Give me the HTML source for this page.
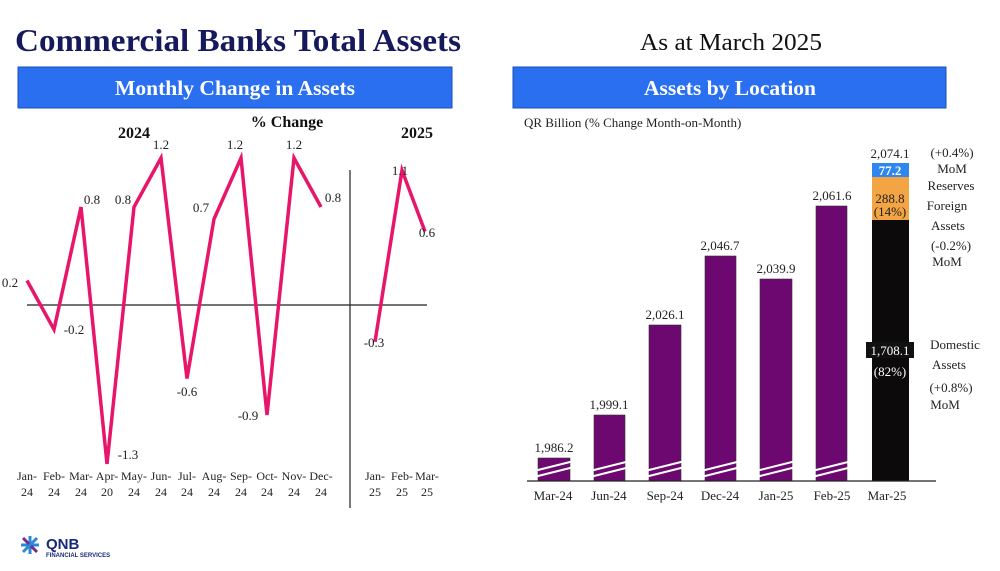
<!DOCTYPE html>
<html><head><meta charset="utf-8"><style>
html,body{margin:0;padding:0;background:#fff;}
svg{display:block;font-family:"Liberation Serif",serif;}
</style></head><body>
<svg width="1000" height="571" viewBox="0 0 1000 571" xmlns="http://www.w3.org/2000/svg">
<text x="15" y="51" font-size="32" font-weight="bold" fill="#161a5c" textLength="446" lengthAdjust="spacingAndGlyphs">Commercial Banks Total Assets</text>
<text x="731" y="50" font-size="24" fill="#111" text-anchor="middle" textLength="182" lengthAdjust="spacingAndGlyphs">As at March 2025</text>
<rect x="18" y="67" width="434" height="41" fill="#2a6ff0" stroke="#1a4fb8"/>
<text x="235" y="95" font-size="21" font-weight="bold" fill="#fff" text-anchor="middle" textLength="240" lengthAdjust="spacingAndGlyphs">Monthly Change in Assets</text>
<rect x="513" y="67" width="433" height="41" fill="#2a6ff0" stroke="#1a4fb8"/>
<text x="730" y="95" font-size="21" font-weight="bold" fill="#fff" text-anchor="middle" textLength="172" lengthAdjust="spacingAndGlyphs">Assets by Location</text>

<!-- left chart -->
<g font-size="13" fill="#111">
<text x="134" y="138" font-size="16" font-weight="bold" text-anchor="middle">2024</text>
<text x="287" y="127" font-size="16" font-weight="bold" text-anchor="middle">% Change</text>
<text x="417" y="138" font-size="16" font-weight="bold" text-anchor="middle">2025</text>
</g>
<line x1="27" y1="305" x2="427" y2="305" stroke="#222" stroke-width="1.2"/>
<line x1="350" y1="170" x2="350" y2="508" stroke="#222" stroke-width="1.2"/>
<polyline fill="none" stroke="#e8166a" stroke-width="3.5" stroke-linejoin="miter" points="27,280.5 54,329.5 81,207 107,464 134,207 161,158 187,378.5 214,219 241,158 267,415 294,158 321,207"/>
<polyline fill="none" stroke="#e8166a" stroke-width="3.5" points="375,341.8 402,170.3 425,231.5"/>
<g font-size="13" fill="#222" font-family="Liberation Serif,serif">
<text x="10" y="287" text-anchor="middle">0.2</text>
<text x="74" y="334" text-anchor="middle">-0.2</text>
<text x="92" y="204" text-anchor="middle">0.8</text>
<text x="128" y="459" text-anchor="middle">-1.3</text>
<text x="123" y="204" text-anchor="middle">0.8</text>
<text x="161" y="149" text-anchor="middle">1.2</text>
<text x="187" y="396" text-anchor="middle">-0.6</text>
<text x="201" y="212" text-anchor="middle">0.7</text>
<text x="235" y="149" text-anchor="middle">1.2</text>
<text x="248" y="420" text-anchor="middle">-0.9</text>
<text x="294" y="149" text-anchor="middle">1.2</text>
<text x="333" y="202" text-anchor="middle">0.8</text>
<text x="374" y="347" text-anchor="middle">-0.3</text>
<text x="400" y="175" text-anchor="middle">1.1</text>
<text x="427" y="237" text-anchor="middle">0.6</text>
</g>
<g font-size="12" fill="#222" text-anchor="middle">
<text x="27" y="480">Jan-</text><text x="27" y="496">24</text>
<text x="54" y="480">Feb-</text><text x="54" y="496">24</text>
<text x="81" y="480">Mar-</text><text x="81" y="496">24</text>
<text x="107" y="480">Apr-</text><text x="107" y="496">20</text>
<text x="134" y="480">May-</text><text x="134" y="496">24</text>
<text x="161" y="480">Jun-</text><text x="161" y="496">24</text>
<text x="187" y="480">Jul-</text><text x="187" y="496">24</text>
<text x="214" y="480">Aug-</text><text x="214" y="496">24</text>
<text x="241" y="480">Sep-</text><text x="241" y="496">24</text>
<text x="267" y="480">Oct-</text><text x="267" y="496">24</text>
<text x="294" y="480">Nov-</text><text x="294" y="496">24</text>
<text x="321" y="480">Dec-</text><text x="321" y="496">24</text>
<text x="375" y="480">Jan-</text><text x="375" y="496">25</text>
<text x="402" y="480">Feb-</text><text x="402" y="496">25</text>
<text x="427" y="480">Mar-</text><text x="427" y="496">25</text>
</g>

<!-- right chart -->
<text x="524" y="127" font-size="13" fill="#222">QR Billion (% Change Month-on-Month)</text>
<g fill="#6d0870" stroke="#333" stroke-width="0.6">
<rect x="538" y="458" width="32" height="23"/>
<rect x="594" y="415" width="31" height="66"/>
<rect x="649" y="325" width="32" height="156"/>
<rect x="705" y="256" width="31" height="225"/>
<rect x="760" y="279" width="32" height="202"/>
<rect x="816" y="206" width="31" height="275"/>
</g>
<rect x="872" y="163" width="37" height="14" fill="#2f86f0"/>
<rect x="872" y="177" width="37" height="43" fill="#f2a542"/>
<rect x="872" y="220" width="37" height="261" fill="#0c0a0a"/>
<g stroke="#fff" stroke-width="2">
<line x1="534" y1="471" x2="574" y2="461"/><line x1="534" y1="477" x2="574" y2="467"/>
<line x1="590" y1="471" x2="630" y2="461"/><line x1="590" y1="477" x2="630" y2="467"/>
<line x1="645" y1="471" x2="685" y2="461"/><line x1="645" y1="477" x2="685" y2="467"/>
<line x1="701" y1="471" x2="741" y2="461"/><line x1="701" y1="477" x2="741" y2="467"/>
<line x1="756" y1="471" x2="796" y2="461"/><line x1="756" y1="477" x2="796" y2="467"/>
<line x1="812" y1="471" x2="852" y2="461"/><line x1="812" y1="477" x2="852" y2="467"/>
</g>
<line x1="527" y1="481" x2="936" y2="481" stroke="#222" stroke-width="1.2"/>
<g font-size="13" fill="#222" text-anchor="middle">
<text x="554" y="452">1,986.2</text>
<text x="609" y="409">1,999.1</text>
<text x="665" y="319">2,026.1</text>
<text x="720" y="250">2,046.7</text>
<text x="776" y="273">2,039.9</text>
<text x="832" y="200">2,061.6</text>
<text x="890" y="158">2,074.1</text>
<text x="890" y="175" fill="#fff" font-weight="bold">77.2</text>
<text x="890" y="203">288.8</text>
<text x="890" y="216">(14%)</text>
<rect x="866" y="342" width="48" height="16" fill="#111"/>
<text x="890" y="355" fill="#fff">1,708.1</text>
<text x="890" y="376" fill="#fff">(82%)</text>
</g>
<g font-size="13" fill="#222" text-anchor="middle">
<text x="952" y="157">(+0.4%)</text>
<text x="952" y="173">MoM</text>
<text x="951" y="190">Reserves</text>
<text x="947" y="210">Foreign</text>
<text x="948" y="230">Assets</text>
<text x="951" y="250">(-0.2%)</text>
<text x="947" y="266">MoM</text>
<text x="955" y="349">Domestic</text>
<text x="949" y="369">Assets</text>
<text x="951" y="392">(+0.8%)</text>
<text x="945" y="409">MoM</text>
</g>
<g font-size="13" fill="#222" text-anchor="middle">
<text x="553" y="500">Mar-24</text>
<text x="609" y="500">Jun-24</text>
<text x="665" y="500">Sep-24</text>
<text x="720" y="500">Dec-24</text>
<text x="776" y="500">Jan-25</text>
<text x="832" y="500">Feb-25</text>
<text x="887" y="500">Mar-25</text>
</g>

<!-- logo -->
<g transform="translate(30,545)">
<g stroke="#2a8ad8" stroke-width="3">
<line x1="-9" y1="0" x2="9" y2="0"/><line x1="0" y1="-9" x2="0" y2="9"/>
<line x1="-7" y1="-7" x2="7" y2="7" stroke="#7a2a8a"/><line x1="-7" y1="7" x2="7" y2="-7"/>
</g>
</g>
<text x="46" y="549" font-family="Liberation Sans,sans-serif" font-size="15" font-weight="bold" fill="#1a2a7a">QNB</text>
<text x="46" y="557" font-family="Liberation Sans,sans-serif" font-size="6" font-weight="bold" fill="#1a2a7a">FINANCIAL SERVICES</text>
</svg>
</body></html>
